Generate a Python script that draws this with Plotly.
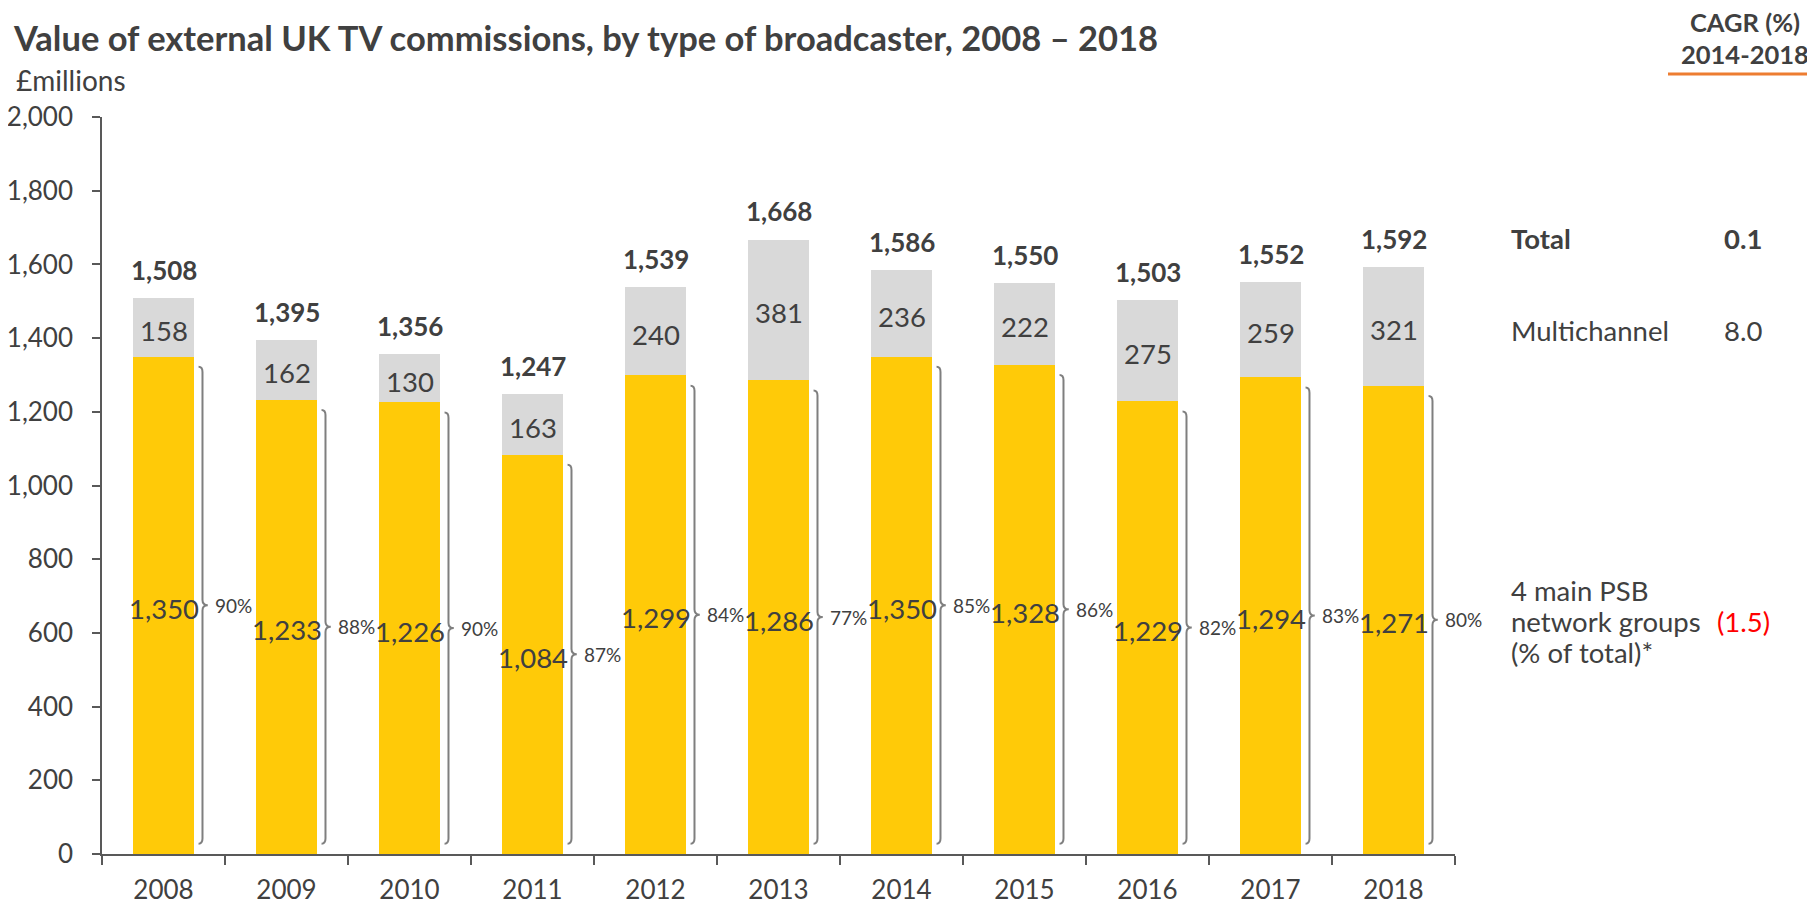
import plotly.graph_objects as go

years = ["2008", "2009", "2010", "2011", "2012", "2013", "2014", "2015", "2016", "2017", "2018"]
psb = [1350, 1233, 1226, 1084, 1299, 1286, 1350, 1328, 1229, 1294, 1271]
multichannel = [158, 162, 130, 163, 240, 381, 236, 222, 275, 259, 321]
totals = [1508, 1395, 1356, 1247, 1539, 1668, 1586, 1550, 1503, 1552, 1592]
psb_share = [90, 88, 90, 87, 84, 77, 85, 86, 82, 83, 80]

cagr_labels = [["Total"], ["Multichannel"], ["4 main PSB", "network groups", "(% of total)*"]]
cagr_values = ["0.1", "8.0", "(1.5)"]

YELLOW = "#FFCA08"
GREY = "#D9D9D9"
TXT = "#404040"
FONT = "Lato"

W, H = 1815, 903
OFF = 8  # default body margin of the page
# plot area in page pixels: x 102..1455, y 117..854
L, T = 102 - OFF, 117 - OFF
R = W - (1455 - OFF)
B = H - (854 - OFF)
PW, PH = W - L - R, H - T - B


def px(x):
    return (x - OFF - L) / PW


def py(y):
    return (H - B - (y - OFF)) / PH


fig = go.Figure()
fig.add_trace(go.Bar(x=years, y=psb, marker=dict(color=YELLOW, line=dict(width=0)), width=0.5))
fig.add_trace(go.Bar(x=years, y=multichannel, marker=dict(color=GREY, line=dict(width=0)), width=0.5))

annotations = []
shapes = []
for i, (p, m, t) in enumerate(zip(psb, multichannel, totals)):
    annotations.append(dict(x=i, y=p / 2, xref="x2", yref="y", text=f"{p:,}", showarrow=False,
                            yanchor="middle", yshift=-3, font=dict(family=FONT, size=27.5, color=TXT)))
    annotations.append(dict(x=i, y=p + m / 2, xref="x2", yref="y", text=f"{m:,}", showarrow=False,
                            yanchor="middle", yshift=-3, font=dict(family=FONT, size=27.5, color=TXT)))
    annotations.append(dict(x=i, y=t, xref="x2", yref="y", text=f"<b>{t:,}</b>", showarrow=False,
                            yanchor="bottom", yshift=10, font=dict(family=FONT, size=26, color=TXT)))

# braces showing the PSB share, built from the PSB values on a numeric overlay axis
xv_off, xl_off, xt_off = 0.317, 0.285, 0.36
for i, (p, s) in enumerate(zip(psb, psb_share)):
    top, bot, mid = p - 28, 28, p / 2
    d = 14
    xv, xl, xt = i + xv_off, i + xl_off, i + xt_off
    path = (f"M {xl},{top} Q {xv},{top} {xv},{top - d} L {xv},{mid + d} "
            f"Q {xv},{mid} {xt},{mid} Q {xv},{mid} {xv},{mid - d} "
            f"L {xv},{bot + d} Q {xv},{bot} {xl},{bot}")
    shapes.append(dict(type="path", path=path, xref="x2", yref="y",
                       line=dict(color="#7F7F7F", width=2)))
    annotations.append(dict(x=i + 0.40, y=mid, xref="x2", yref="y", text=f"{s}%", showarrow=False,
                            xanchor="left", yanchor="middle", font=dict(family=FONT, size=19, color=TXT)))

# titles
annotations.append(dict(x=px(11), y=py(38), xref="paper", yref="paper", showarrow=False,
                        text="<b>Value of external UK TV commissions, by type of broadcaster, 2008 – 2018</b>",
                        xanchor="left", yanchor="middle", font=dict(family=FONT, size=34.5, color=TXT)))
annotations.append(dict(x=px(14), y=py(80), xref="paper", yref="paper", showarrow=False,
                        text="£millions", xanchor="left", yanchor="middle",
                        font=dict(family=FONT, size=28, color=TXT)))
for txt, yy in (("CAGR (%)", 22), ("2014-2018", 54)):
    annotations.append(dict(x=px(1745), y=py(yy), xref="paper", yref="paper", showarrow=False,
                            text=f"<b>{txt}</b>", xanchor="center", yanchor="middle",
                            font=dict(family=FONT, size=25.5, color=TXT)))
shapes.append(dict(type="line", xref="paper", yref="paper", x0=px(1668), x1=px(1830),
                   y0=py(74), y1=py(74), line=dict(color="#ED7D31", width=3)))

# CAGR table
label_y = [[238], [330], [590, 621, 652]]
for lines, val, ys in zip(cagr_labels, cagr_values, label_y):
    bold = lines[0] == "Total"
    for lab, ly in zip(lines, ys):
        annotations.append(dict(x=px(1509), y=py(ly), xref="paper", yref="paper", showarrow=False,
                                text=f"<b>{lab}</b>" if bold else lab, xanchor="left", yanchor="middle",
                                font=dict(family=FONT, size=27.5, color=TXT)))
    color = "#FF0000" if val.startswith("(") else TXT
    vy = ys[len(ys) // 2]
    annotations.append(dict(x=px(1743), y=py(vy), xref="paper", yref="paper", showarrow=False,
                            text=f"<b>{val}</b>" if bold else val, xanchor="center", yanchor="middle",
                            font=dict(family=FONT, size=27.5, color=color)))

fig.update_layout(
    width=W, height=H, barmode="stack", showlegend=False,
    plot_bgcolor="white", paper_bgcolor="white",
    margin=dict(l=L, r=R, t=T, b=B, pad=0, autoexpand=False),
    font=dict(family=FONT, color=TXT),
    xaxis=dict(type="category", tickson="boundaries", ticks="outside", ticklen=9, tickwidth=1.5,
               tickcolor="#595959", showline=True, linecolor="#595959", linewidth=1.5,
               tickfont=dict(family=FONT, size=26, color=TXT), ticklabelstandoff=12,
               showgrid=False, range=[-0.5, 10.5], automargin=False),
    xaxis2=dict(overlaying="x", range=[-0.5, 10.5], visible=False, anchor="y"),
    yaxis=dict(range=[0, 2000], dtick=200, tickformat=",", ticks="outside", ticklen=8, tickwidth=1.5,
               tickcolor="#595959", showline=True, linecolor="#595959", linewidth=1.5,
               tickfont=dict(family=FONT, size=26, color=TXT), showgrid=False, zeroline=False,
               ticklabelstandoff=14, automargin=False),
    annotations=annotations, shapes=shapes, bargap=0.5,
)

fig.write_html("out.html")
